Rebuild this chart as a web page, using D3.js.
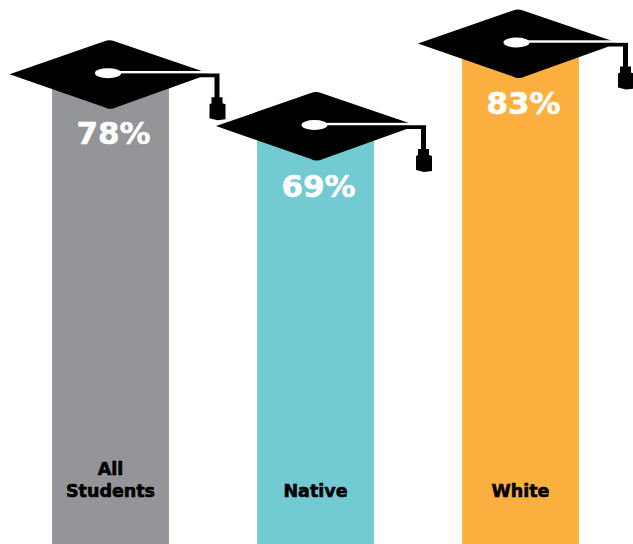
<!DOCTYPE html>
<html>
<head>
  <meta charset="utf-8">
  <title>graduation rates</title>
  <style>
    html, body { margin: 0; padding: 0; background: #fff; }
    svg { display: block; }
    text { font-family: "DejaVu Sans", sans-serif; font-weight: bold; text-anchor: middle; }
    .pct { font-size: 31px; fill: #fff; stroke: #fff; stroke-width: 0.5px; }
    .name { font-size: 17.5px; fill: #000; stroke: #000; stroke-width: 0.6px; }
  </style>
  <script src="https://d3js.org/d3.v7.min.js"></script>
</head>
<body>
  <script>
    var groups = ["All Students", "Native", "White"];
    var rates = [78, 69, 83];
    var barColors = ["#939598", "#72cbd3", "#fdb040"];

    var width = 633;
    var height = 544;

    // the caps aren't placed quite evenly in the original
    var capNudge = [[0, 1.5], [1.5, 0], [-1.5, 0.5]];

    var svg = d3.select("body").append("svg")
      .attr("width", width)
      .attr("height", height);

    var x = d3.scaleBand()
      .domain(groups)
      .range([8, 623])
      .paddingInner(0.43)
      .paddingOuter(0.215);

    var y = d3.scaleLinear()
      .domain([60, 90])
      .range([179.4, 1.5]);

    var bar = svg.selectAll("g.bar")
      .data(groups)
      .enter()
      .append("g")
      .attr("class", "bar")
      .attr("transform", function(d) { return "translate(" + x(d) + ",0)"; });

    bar.append("rect")
      .attr("y", function(d, i) { return y(rates[i]); })
      .attr("width", x.bandwidth())
      .attr("height", function(d, i) { return height - y(rates[i]); })
      .attr("fill", function(d, i) { return barColors[i]; });

    bar.append("text")
      .attr("class", "pct")
      .attr("x", x.bandwidth() / 2 + 3)
      .attr("y", function(d, i) { return y(rates[i]) + 71; })
      .text(function(d, i) { return rates[i] + "%"; });

    // names sit on the same baseline, long ones wrap upward
    bar.each(function(d) {
      var words = d.split(" ");
      var self = d3.select(this);
      words.forEach(function(w, j) {
        self.append("text")
          .attr("class", "name")
          .attr("x", x.bandwidth() / 2)
          .attr("y", 497 - (words.length - 1 - j) * 22.5)
          .text(w);
      });
    });

    // mortarboard, drawn round its own centre
    var cap = svg.selectAll("g.cap")
      .data(groups)
      .enter()
      .append("g")
      .attr("class", "cap")
      .attr("transform", function(d, i) {
        return "translate(" + (x(d) + x.bandwidth() / 2 + capNudge[i][0]) + "," + (y(rates[i]) + capNudge[i][1]) + ")";
      });

    cap.append("path")
      .attr("d", "M-101,0 L-6,-33 Q-1,-35 4,-33 L92,-3 L98,0 L6,33 Q-1,36 -6,33 Z")
      .attr("fill", "#000");
    // cord and tassel
    cap.append("path")
      .attr("d", "M90,-1 L109,-1 L109,23 L112,23 L112,29 L115,30 L115,45 L107,46 L99,44 L99,30 L101,29 L101,23 L104,23 L104,3 L90,3 Z")
      .attr("fill", "#000");
    cap.append("ellipse")
      .attr("cx", -2.5)
      .attr("cy", -1)
      .attr("rx", 13)
      .attr("ry", 5)
      .attr("fill", "#fff");
    cap.append("rect")
      .attr("x", 8)
      .attr("y", -3.2)
      .attr("width", 101)
      .attr("height", 2.4)
      .attr("fill", "#fff");
  </script>
</body>
</html>
